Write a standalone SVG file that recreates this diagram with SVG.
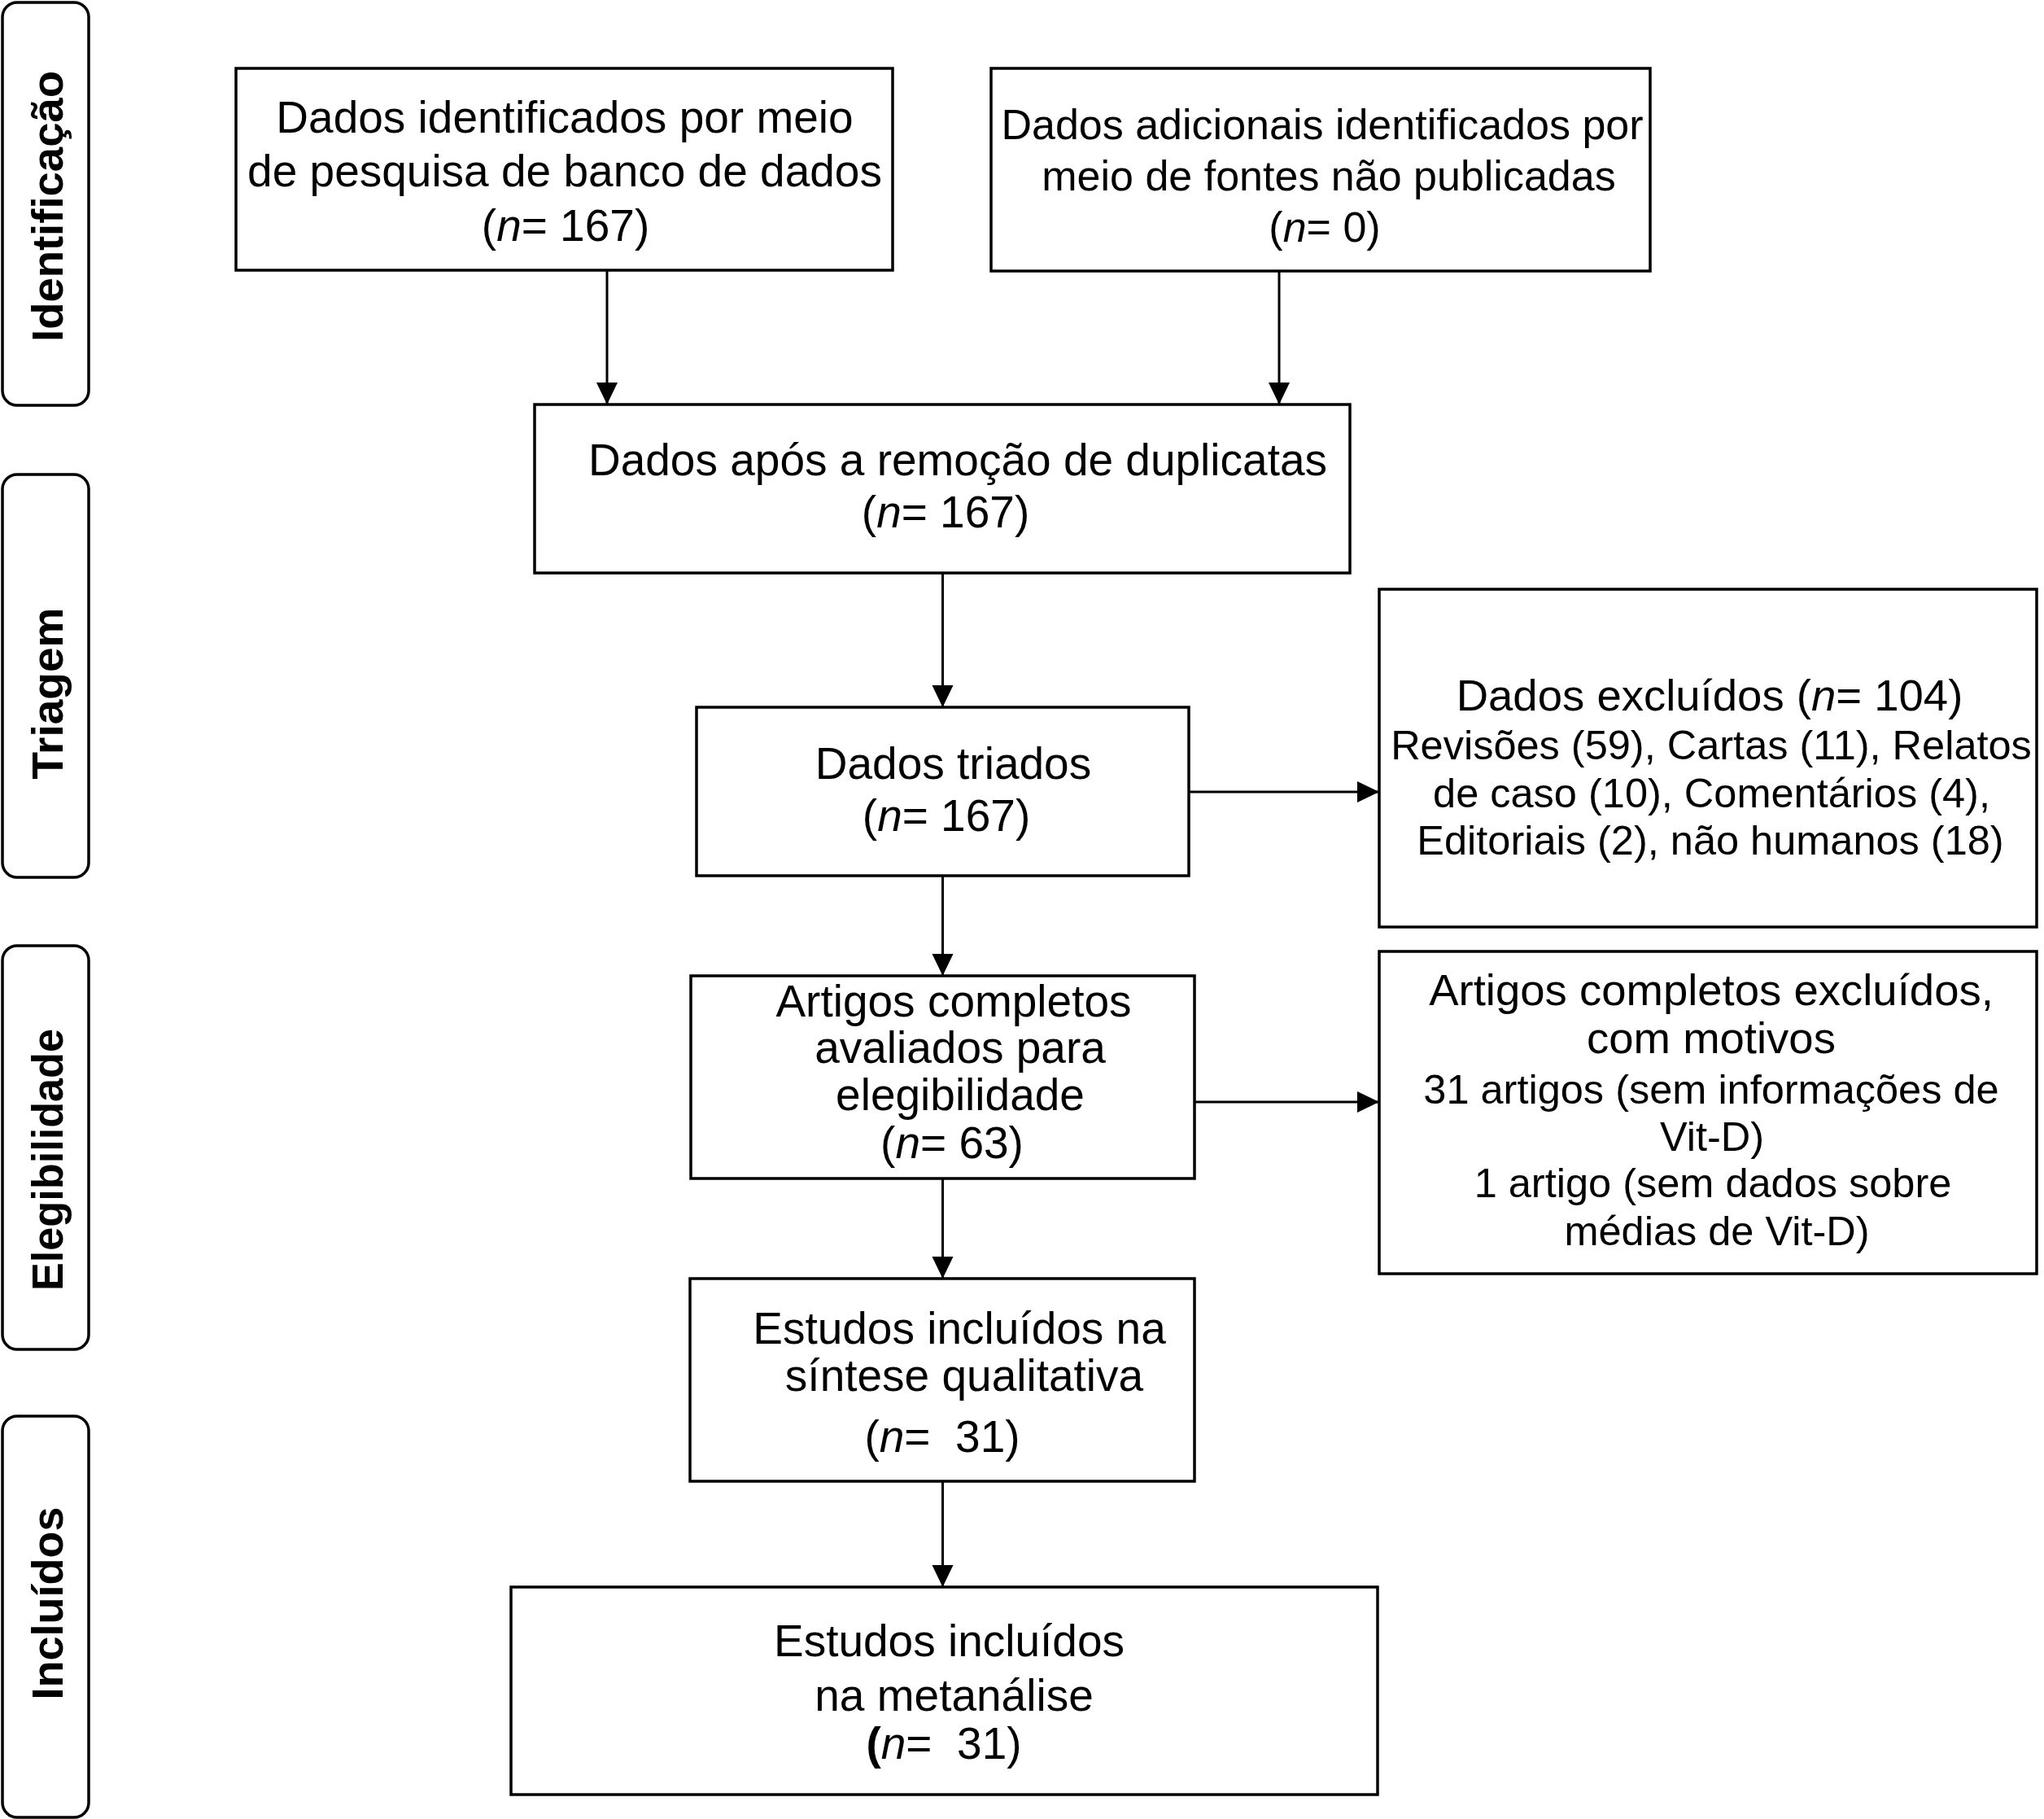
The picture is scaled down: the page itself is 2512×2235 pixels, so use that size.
<svg xmlns="http://www.w3.org/2000/svg" width="2512" height="2235" viewBox="0 0 2512 2235">
<style>
  .bg { fill: #ffffff; }
  .box { fill: #ffffff; stroke: #000000; stroke-width: 3.5; }
  .side { fill: #ffffff; stroke: #000000; stroke-width: 3.5; }
  .conn { fill: none; stroke: #000000; stroke-width: 3; }
  text { font-family: "Liberation Sans", Arial, Helvetica, sans-serif; fill: #000000; text-anchor: middle; }
  .t55 { font-size: 55px; }
  .t52 { font-size: 52px; }
  .t545 { font-size: 54.5px; }
  .t50 { font-size: 50.5px; }
  .lab { font-size: 54px; font-weight: bold; }
  .i { font-style: italic; }
</style>
<defs>
  <marker id="arrow" markerUnits="userSpaceOnUse" markerWidth="28" markerHeight="28" refX="27" refY="13" orient="auto">
    <path d="M0,0 L27,13 L0,26 z" fill="#000000"/>
  </marker>
</defs>
<rect class="bg" x="0" y="0" width="2512" height="2235"/>

<g id="phase-identificacao">
  <rect class="side" x="3" y="3" width="106" height="495" rx="18" ry="18"/>
  <text class="lab" transform="translate(77,253.5) rotate(-90)" textLength="333" lengthAdjust="spacingAndGlyphs">Identificação</text>
</g>
<g id="phase-triagem">
  <rect class="side" x="3" y="583" width="106" height="495" rx="18" ry="18"/>
  <text class="lab" transform="translate(77,852) rotate(-90)" textLength="211" lengthAdjust="spacingAndGlyphs">Triagem</text>
</g>
<g id="phase-elegibilidade">
  <rect class="side" x="3" y="1162" width="106" height="496" rx="18" ry="18"/>
  <text class="lab" transform="translate(77,1425) rotate(-90)" textLength="322" lengthAdjust="spacingAndGlyphs">Elegibilidade</text>
</g>
<g id="phase-incluidos">
  <rect class="side" x="3" y="1740" width="106" height="493" rx="18" ry="18"/>
  <text class="lab" transform="translate(77,1970) rotate(-90)" textLength="237" lengthAdjust="spacingAndGlyphs">Incluídos</text>
</g>

<g id="connectors">
  <path class="conn" d="M746,332 V497" marker-end="url(#arrow)"/>
  <path class="conn" d="M1572,333 V497" marker-end="url(#arrow)"/>
  <path class="conn" d="M1158.5,705 V869" marker-end="url(#arrow)"/>
  <path class="conn" d="M1461,973 H1695" marker-end="url(#arrow)"/>
  <path class="conn" d="M1158.5,1076 V1199" marker-end="url(#arrow)"/>
  <path class="conn" d="M1468,1354 H1695" marker-end="url(#arrow)"/>
  <path class="conn" d="M1158.5,1448 V1571" marker-end="url(#arrow)"/>
  <path class="conn" d="M1158.5,1820 V1950" marker-end="url(#arrow)"/>
</g>

<g id="node-database">
  <rect class="box" x="290" y="84" width="807" height="248"/>
  <text class="t55" x="694" y="163">Dados identificados por meio</text>
  <text class="t55" x="694" y="229">de pesquisa de banco de dados</text>
  <text class="t55" x="695" y="296">(<tspan class="i">n</tspan>= 167)</text>
</g>

<g id="node-additional">
  <rect class="box" x="1218" y="84" width="810" height="249"/>
  <text class="t52" x="1625" y="171">Dados adicionais identificados por</text>
  <text class="t52" x="1633" y="234">meio de fontes não publicadas</text>
  <text class="t52" x="1628" y="297">(<tspan class="i">n</tspan>= 0)</text>
</g>

<g id="node-duplicates">
  <rect class="box" x="657" y="497" width="1002" height="207"/>
  <text class="t55" x="1177" y="584">Dados após a remoção de duplicatas</text>
  <text class="t55" x="1162" y="648">(<tspan class="i">n</tspan>= 167)</text>
</g>

<g id="node-screened">
  <rect class="box" x="856" y="869" width="605" height="207"/>
  <text class="t55" x="1171.5" y="957">Dados triados</text>
  <text class="t55" x="1163" y="1021">(<tspan class="i">n</tspan>= 167)</text>
</g>

<g id="node-excluded">
  <rect class="box" x="1695" y="724" width="808" height="415"/>
  <text class="t545" x="2101" y="873">Dados excluídos (<tspan class="i">n</tspan>= 104)</text>
  <text class="t50" x="2103" y="933">Revisões (59), Cartas (11), Relatos</text>
  <text class="t50" x="2103.5" y="991.5">de caso (10), Comentários (4),</text>
  <text class="t50" x="2102" y="1050">Editoriais (2), não humanos (18)</text>
</g>

<g id="node-fulltext">
  <rect class="box" x="849" y="1199" width="619" height="249"/>
  <text class="t55" x="1172" y="1248.5">Artigos completos</text>
  <text class="t55" x="1180" y="1306">avaliados para</text>
  <text class="t55" x="1180" y="1363.5">elegibilidade</text>
  <text class="t55" x="1170" y="1423">(<tspan class="i">n</tspan>= 63)</text>
</g>

<g id="node-fulltext-excluded">
  <rect class="box" x="1695" y="1169" width="808" height="396"/>
  <text class="t545" x="2103" y="1235">Artigos completos excluídos,</text>
  <text class="t545" x="2103" y="1294">com motivos</text>
  <text class="t50" x="2103" y="1355.5">31 artigos (sem informações de</text>
  <text class="t50" x="2104" y="1414">Vit-D)</text>
  <text class="t50" x="2105" y="1471">1 artigo (sem dados sobre</text>
  <text class="t50" x="2110" y="1530">médias de Vit-D)</text>
</g>

<g id="node-qualitative">
  <rect class="box" x="848" y="1571" width="620" height="249"/>
  <text class="t55" x="1179" y="1651">Estudos incluídos na</text>
  <text class="t55" x="1185" y="1708.5">síntese qualitativa</text>
  <text class="t55" x="1158" y="1784" xml:space="preserve">(<tspan class="i">n</tspan>=  31)</text>
</g>

<g id="node-meta">
  <rect class="box" x="628" y="1950" width="1065" height="255"/>
  <text class="t55" x="1166.5" y="2035">Estudos incluídos</text>
  <text class="t55" x="1172.5" y="2102">na metanálise</text>
  <text class="t55" x="1160" y="2161" xml:space="preserve"><tspan font-weight="bold">(</tspan><tspan class="i">n</tspan>=  31)</text>
</g>
</svg>
